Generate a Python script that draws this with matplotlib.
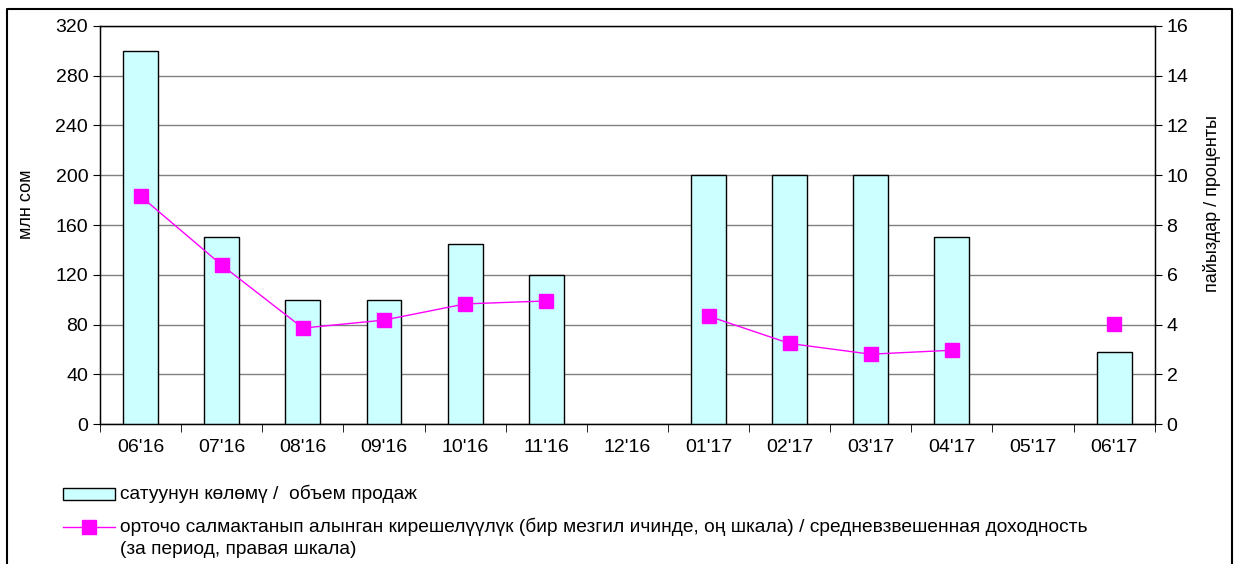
import numpy as np
import matplotlib.pyplot as plt
from matplotlib.patches import Rectangle
from matplotlib.lines import Line2D

plt.rcParams['font.family'] = ['Liberation Sans', 'DejaVu Sans']

# данные
months = ["06'16", "07'16", "08'16", "09'16", "10'16", "11'16", "12'16",
          "01'17", "02'17", "03'17", "04'17", "05'17", "06'17"]
volume = [300, 150, 100, 100, 145, 120, np.nan, 200, 200, 200, 150, np.nan, 58]
yield_pct = [9.16, 6.39, 3.86, 4.18, 4.83, 4.95, np.nan,
             4.34, 3.24, 2.81, 2.97, np.nan, 4.04]

label_bar = 'сатуунун көлөмү /  объем продаж'
label_line1 = ('орточо салмактанып алынган кирешелүүлүк (бир мезгил ичинде, оң шкала) / '
               'средневзвешенная доходность')
label_line2 = '(за период, правая шкала)'

W, H = 1235, 564
def px(x, y):
    # пиксели -> координаты фигуры
    return x / W, 1 - y / H

fig = plt.figure(figsize=(W / 100, H / 100), dpi=100)
ax = fig.add_axes([0.081, 0.248, 0.854, 0.706])
x = np.arange(len(months))

ax.bar(x, volume, width=0.43, color='#ccffff', edgecolor='black', linewidth=1, zorder=3)
ax.set_xlim(-0.5, len(months) - 0.5)
ax.set_ylim(0, 320)
ax.set_yticks(range(0, 321, 40))
ax.grid(axis='y', color='#808080', linewidth=1, zorder=0)
ax.set_xticks(x)
ax.set_xticklabels(months, fontsize=14)
ax.tick_params(axis='x', length=0, pad=11)
ax.set_xticks(np.arange(-0.5, len(months), 1), minor=True)
ax.tick_params(axis='x', which='minor', length=6, direction='out')
ax.tick_params(axis='y', labelsize=14, length=5, direction='out')
ax.set_ylabel('млн сом', fontsize=13)
ax.yaxis.set_label_coords(-0.062, 0.553)
for s in ax.spines.values():
    s.set_linewidth(1)

ax2 = ax.twinx()
ax2.plot(x, yield_pct, color='#ff00ff', linewidth=1, marker='s', markersize=10, zorder=4)
ax2.set_ylim(0, 16)
ax2.set_yticks(range(0, 17, 2))
ax2.tick_params(axis='y', labelsize=14, length=5, direction='out')
ax2.set_ylabel('пайыздар / проценты', fontsize=13)
ax2.yaxis.set_label_coords(1.046, 0.553)

# легенда
x0, y0 = px(63, 500)
x1, y1 = px(115, 488)
fig.add_artist(Rectangle((x0, y0), x1 - x0, y1 - y0, transform=fig.transFigure,
                         facecolor='#ccffff', edgecolor='black', linewidth=1))
fig.text(*px(120, 494), label_bar, fontsize=13.8, va='center', ha='left')
lx0, ly = px(63, 527)
lx1, _ = px(115, 527)
mx, _ = px(89, 527)
fig.add_artist(Line2D([lx0, lx1], [ly, ly], transform=fig.transFigure,
                      color='#ff00ff', linewidth=1))
fig.add_artist(Line2D([mx], [ly], transform=fig.transFigure, color='#ff00ff',
                      marker='s', markersize=10))
fig.text(*px(120, 527), label_line1, fontsize=13.8, va='center', ha='left')
fig.text(*px(120, 550), label_line2, fontsize=13.8, va='center', ha='left')

# рамка
bx0, by0 = px(7, 564)
bx1, by1 = px(1232, 9)
fig.add_artist(Line2D([bx0, bx0, bx1, bx1], [by0, by1, by1, by0],
                      transform=fig.transFigure, color='black', linewidth=1.5))

fig.savefig('out.png', dpi=100)
